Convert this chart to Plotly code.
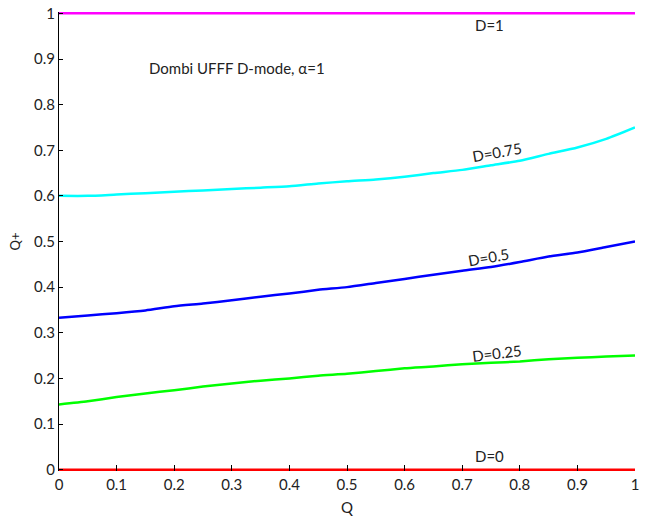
import plotly.graph_objects as go

# Dombi UFFF in D-mode (alpha = 1): Q+ as a function of Q for several D values
q_values = [0, 0.05, 0.1, 0.15, 0.2, 0.25, 0.3, 0.35, 0.4, 0.45, 0.5,
            0.55, 0.6, 0.65, 0.7, 0.75, 0.8, 0.85, 0.9, 0.95, 1]
qplus_d1 = [1.0] * len(q_values)
qplus_d075 = [0.600, 0.600, 0.603, 0.606, 0.609, 0.612, 0.615, 0.618, 0.621, 0.627, 0.632,
              0.636, 0.642, 0.650, 0.657, 0.667, 0.677, 0.692, 0.706, 0.725, 0.750]
qplus_d05 = [0.333, 0.338, 0.343, 0.349, 0.358, 0.364, 0.371, 0.379, 0.386, 0.394, 0.400,
             0.409, 0.418, 0.427, 0.436, 0.444, 0.455, 0.467, 0.476, 0.488, 0.500]
qplus_d025 = [0.143, 0.150, 0.159, 0.167, 0.174, 0.182, 0.189, 0.195, 0.200, 0.206, 0.210,
              0.216, 0.222, 0.226, 0.231, 0.234, 0.237, 0.242, 0.245, 0.248, 0.250]
qplus_d0 = [0.0] * len(q_values)

series_names = ["D=1", "D=0.75", "D=0.5", "D=0.25", "D=0"]
series_colors = ["#ff00ff", "#00ffff", "#0000ff", "#00ff00", "#ff0000"]
series_values = [qplus_d1, qplus_d075, qplus_d05, qplus_d025, qplus_d0]

# curve labels: (Q, Q+, rotation)
label_q = [0.748, 0.76, 0.745, 0.76, 0.747]
label_y = [0.975, 0.697, 0.466, 0.255, 0.029]
label_angle = [0, -10, -10, -7, 0]

tick_vals = [0, 0.1, 0.2, 0.3, 0.4, 0.5, 0.6, 0.7, 0.8, 0.9, 1]
tick_text = ["0", "0.1", "0.2", "0.3", "0.4", "0.5", "0.6", "0.7", "0.8", "0.9", "1"]

FONT = "Lato, Calibri, Carlito, sans-serif"
TEXT_COLOR = "#222222"

fig = go.Figure()
for name, color, vals in zip(series_names, series_colors, series_values):
    fig.add_trace(go.Scatter(
        x=q_values, y=vals, mode="lines", name=name,
        line=dict(color=color, width=2.5, shape="spline", smoothing=0.6),
        showlegend=False,
    ))

annotations = []
for name, qx, qy, ang in zip(series_names, label_q, label_y, label_angle):
    annotations.append(dict(
        x=qx, y=qy, xref="x", yref="y", text=name, showarrow=False,
        textangle=ang, font=dict(family=FONT, size=15, color=TEXT_COLOR),
    ))

annotations.append(dict(
    x=0.152, y=0.881, xref="x", yref="y", xanchor="left", yanchor="middle",
    text="Dombi UFFF D-mode, \u03b1=1", showarrow=False,
    font=dict(family=FONT, size=15, color=TEXT_COLOR),
))
annotations.append(dict(
    x=0.5, y=0, xref="paper", yref="paper", xanchor="center", yanchor="middle",
    yshift=-36, text="Q", showarrow=False,
    font=dict(family=FONT, size=15, color=TEXT_COLOR),
))
annotations.append(dict(
    x=0, y=0.5, xref="paper", yref="paper", xanchor="center", yanchor="middle",
    xshift=-45, textangle=-90, text="Q+", showarrow=False,
    font=dict(family=FONT, size=13, color=TEXT_COLOR),
))

tick_font = dict(family=FONT, size=15, color=TEXT_COLOR)

# a tiny pad keeps the full width of the D=0 and D=1 lines inside the plot area
fig.update_layout(
    width=645, height=518,
    margin=dict(l=59, r=10, t=12, b=47, autoexpand=False),
    paper_bgcolor="white", plot_bgcolor="white",
    xaxis=dict(
        range=[0, 1], tickvals=tick_vals, ticktext=tick_text, automargin=False,
        showgrid=False, zeroline=False, showline=False,
        ticks="inside", ticklen=6, tickcolor="black", tickwidth=1,
        tickfont=tick_font, ticklabelstandoff=3,
    ),
    yaxis=dict(
        range=[-0.003, 1.003], tickvals=tick_vals, ticktext=tick_text, automargin=False,
        showgrid=False, zeroline=False, showline=True, linecolor="black", linewidth=1,
        ticks="inside", ticklen=4, tickcolor="black", tickwidth=1,
        tickfont=tick_font,
    ),
    annotations=annotations,
)

fig.write_html("out.html")
